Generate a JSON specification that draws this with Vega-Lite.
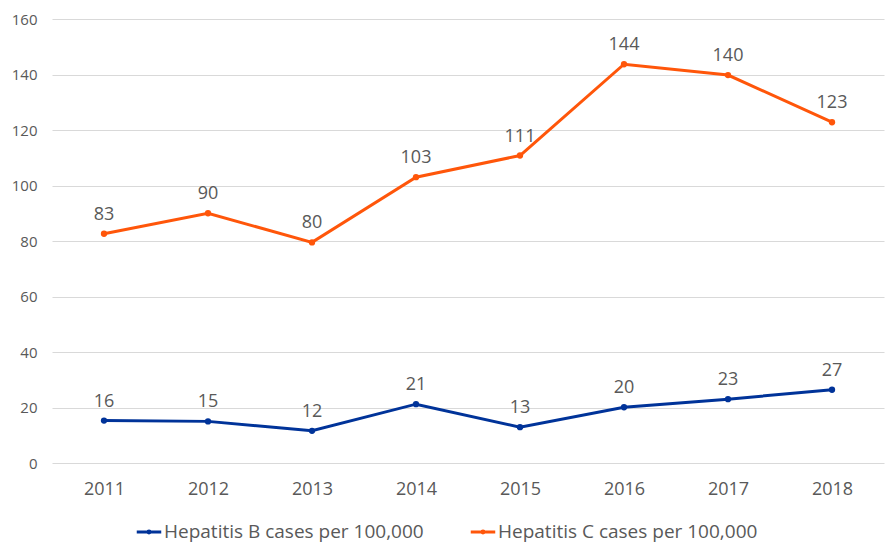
{
  "$schema": "https://vega.github.io/schema/vega-lite/v6.json",
  "width": 832,
  "height": 444,
  "autosize": {"type": "none"},
  "padding": {"left": 52, "top": 19, "right": 2, "bottom": 80},
  "background": "white",
  "config": {
    "view": {"stroke": null},
    "font": "Open Sans"
  },
  "data": {
    "values": [
      {"year": "2011", "series": "Hepatitis B cases per 100,000", "value": 15.3, "label": "16"},
      {"year": "2012", "series": "Hepatitis B cases per 100,000", "value": 15.0, "label": "15"},
      {"year": "2013", "series": "Hepatitis B cases per 100,000", "value": 11.6, "label": "12"},
      {"year": "2014", "series": "Hepatitis B cases per 100,000", "value": 21.2, "label": "21"},
      {"year": "2015", "series": "Hepatitis B cases per 100,000", "value": 12.9, "label": "13"},
      {"year": "2016", "series": "Hepatitis B cases per 100,000", "value": 20.1, "label": "20"},
      {"year": "2017", "series": "Hepatitis B cases per 100,000", "value": 23.0, "label": "23"},
      {"year": "2018", "series": "Hepatitis B cases per 100,000", "value": 26.4, "label": "27"},
      {"year": "2011", "series": "Hepatitis C cases per 100,000", "value": 82.6, "label": "83"},
      {"year": "2012", "series": "Hepatitis C cases per 100,000", "value": 90.0, "label": "90"},
      {"year": "2013", "series": "Hepatitis C cases per 100,000", "value": 79.5, "label": "80"},
      {"year": "2014", "series": "Hepatitis C cases per 100,000", "value": 103.0, "label": "103"},
      {"year": "2015", "series": "Hepatitis C cases per 100,000", "value": 110.8, "label": "111"},
      {"year": "2016", "series": "Hepatitis C cases per 100,000", "value": 143.7, "label": "144"},
      {"year": "2017", "series": "Hepatitis C cases per 100,000", "value": 139.8, "label": "140"},
      {"year": "2018", "series": "Hepatitis C cases per 100,000", "value": 122.8, "label": "123"}
    ]
  },
  "encoding": {
    "x": {
      "field": "year", "type": "ordinal",
      "scale": {"type": "point", "padding": 0.5},
      "axis": {
        "title": null, "labelAngle": 0, "domain": false, "ticks": false, "grid": false,
        "labelFontSize": 18, "labelColor": "#595959", "labelPadding": 17
      }
    },
    "y": {
      "field": "value", "type": "quantitative",
      "scale": {"domain": [0, 160], "nice": false},
      "axis": {
        "title": null, "values": [0, 20, 40, 60, 80, 100, 120, 140, 160],
        "domain": false, "ticks": false, "gridColor": "#D9D9D9", "gridWidth": 1,
        "labelFontSize": 15, "labelColor": "#595959", "labelPadding": 15
      }
    },
    "color": {
      "field": "series", "type": "nominal",
      "scale": {
        "domain": ["Hepatitis B cases per 100,000", "Hepatitis C cases per 100,000"],
        "range": ["#003399", "#FF560A"]
      },
      "legend": {
        "title": null, "orient": "none", "direction": "horizontal",
        "legendX": 83, "legendY": 499,
        "labelFontSize": 19, "labelColor": "#595959", "labelOffset": 1, "labelLimit": 400,
        "columnPadding": 40,
        "symbolType": "M-1,0H1M-0.08,0A0.08,0.08,0,1,1,0.08,0A0.08,0.08,0,1,1,-0.08,0Z",
        "symbolSize": 600, "symbolStrokeWidth": 3
      }
    }
  },
  "layer": [
    {
      "mark": {"type": "line", "strokeWidth": 3, "point": {"filled": true, "size": 40}}
    },
    {
      "mark": {"type": "text", "fontSize": 18, "dy": -10, "baseline": "bottom", "color": "#595959"},
      "encoding": {
        "text": {"field": "label"},
        "color": {"value": "#595959"}
      }
    }
  ]
}
